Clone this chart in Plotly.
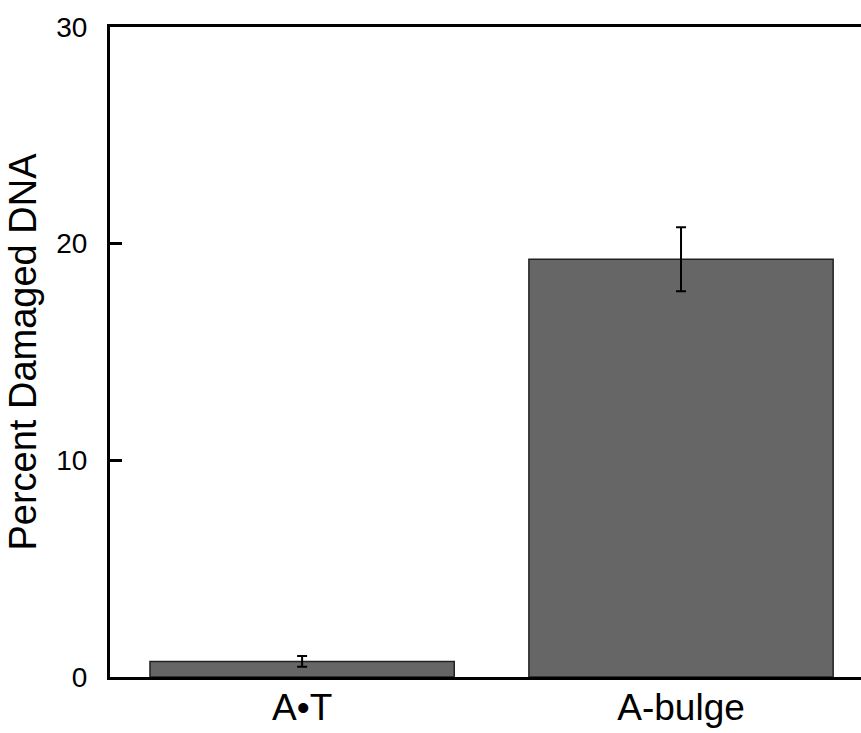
import plotly.graph_objects as go

categories = ["A•T", "A-bulge"]
values = [0.72, 19.28]
errors = [0.25, 1.48]
y_ticks = [0, 10, 20, 30]

fig = go.Figure()
fig.add_trace(go.Bar(
    x=categories,
    y=values,
    width=0.803,
    marker=dict(color="#666666", line=dict(color="#222222", width=1.5)),
    error_y=dict(type="data", array=errors, visible=True, color="black", thickness=2, width=5),
))

fig.update_layout(
    width=861, height=733,
    margin=dict(l=110, r=0, t=27, b=56),
    plot_bgcolor="white", paper_bgcolor="white",
    showlegend=False,
    font=dict(family="Liberation Sans, Arial, sans-serif", color="black"),
)
fig.update_xaxes(
    range=[-0.507, 1.475],
    showline=True, linecolor="black", linewidth=3, mirror=True,
    ticks="", showgrid=False, zeroline=False,
    tickfont=dict(size=37),
    ticklabelstandoff=-4,
    automargin=False,
)
fig.update_yaxes(
    range=[0, 30],
    tickvals=y_ticks,
    showline=True, linecolor="black", linewidth=3, mirror=False,
    ticks="inside", ticklen=12, tickwidth=3, tickcolor="black",
    showgrid=False, zeroline=False,
    tickfont=dict(size=28),
    ticklabelstandoff=14,
    title=dict(text="Percent Damaged DNA", font=dict(size=38), standoff=8),
    automargin=False,
)

fig.write_html("out.html")
